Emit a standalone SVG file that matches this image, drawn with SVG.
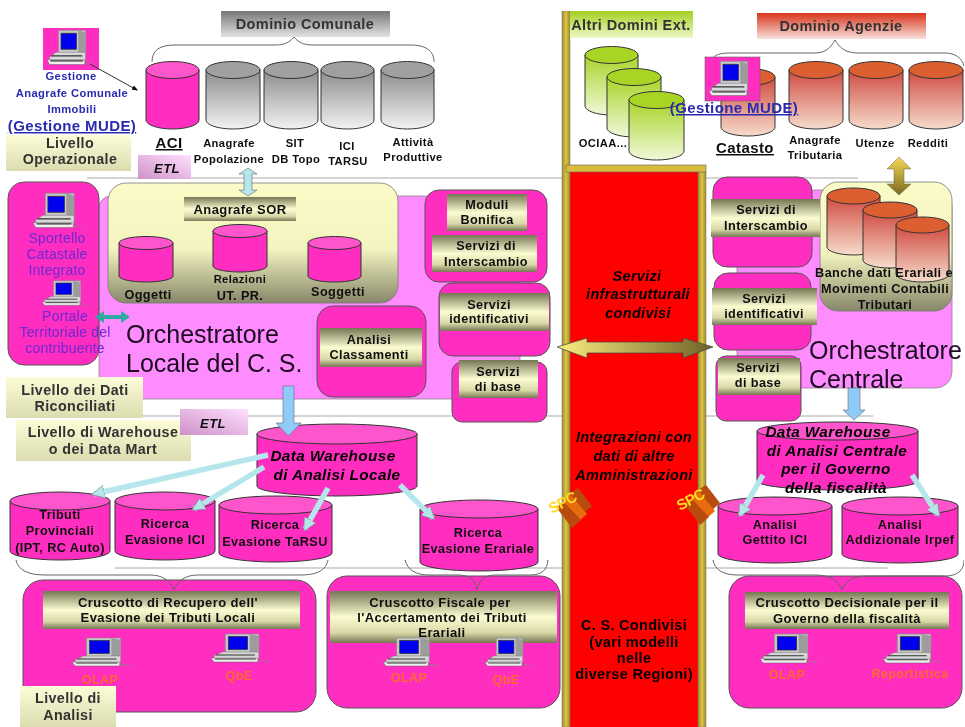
<svg xmlns="http://www.w3.org/2000/svg" width="965" height="727" viewBox="0 0 965 727">
<style>
text{font-family:"Liberation Sans","DejaVu Sans",sans-serif;font-weight:bold;font-size:11.2px;fill:#111;text-anchor:middle;letter-spacing:.4px}
.i{font-style:italic}
.big{font-size:25px;font-weight:normal;text-anchor:start;letter-spacing:0;fill:#1a0a20}
.blue{fill:#2a2ab0}
.mude{font-size:15px;text-decoration:underline}
.vio{fill:#6a2ad0;font-weight:normal;font-size:14px;letter-spacing:.2px}
.org{fill:#ff6a30;font-size:12.5px}
.hd{font-size:13px}
.dom{font-size:14.5px;fill:#333}
.lv{font-size:14.3px;fill:#333}
.m{font-size:12.7px}
.cc{font-size:14.5px;fill:#000;letter-spacing:.3px}
.dw{font-size:15.3px;font-style:italic;fill:#000}
.lab{font-size:15px}
.u{text-decoration:underline}
.etlt{font-style:italic;font-size:13px}
.spc{font-size:15px;fill:#ffd820;letter-spacing:-.5px}
.cyl{stroke:#333;stroke-width:1}
.mag{fill:#ff2dc0}.mcap{fill:#ff55cc}
.gray{fill:url(#gGray)}.gcap{fill:#a0a0a0}
.grn{fill:url(#gGrn)}.grncap{fill:#a8d428}
.ora{fill:url(#gOra)}.oracap{fill:#dc5f30}
.box{fill:#ff2dc0;stroke:#555;stroke-width:1}
.hdr{fill:url(#gHdr)}
.lvl{fill:url(#gLvl)}
.etl{fill:url(#gEtl)}
.br{fill:none;stroke:#666;stroke-width:1}
.hl{stroke:#aaa;stroke-width:1.2;fill:none}
.cy{stroke:#b5e6ec;stroke-width:5.500;fill:none;marker-end:url(#mCy)}
.ex1{fill:#e86c10}.ex2{fill:#b84c08}
</style>
<defs>
<filter id="soft" x="0" y="0" width="100%" height="100%"><feGaussianBlur stdDeviation="0.45"/></filter>
<linearGradient id="gGray" x1="0" y1="0" x2="0" y2="1"><stop offset="0" stop-color="#8c8c8c"/><stop offset="1" stop-color="#f2f2f2"/></linearGradient>
<linearGradient id="gGrn" x1="0" y1="0" x2="0" y2="1"><stop offset="0" stop-color="#a8d428"/><stop offset="1" stop-color="#f0f8d8"/></linearGradient>
<linearGradient id="gOra" x1="0" y1="0" x2="0" y2="1"><stop offset="0" stop-color="#d04a40"/><stop offset="1" stop-color="#f6dccc"/></linearGradient>
<linearGradient id="gHdr" x1="0" y1="0" x2="0" y2="1"><stop offset="0" stop-color="#767654"/><stop offset=".5" stop-color="#fcfcd2"/><stop offset=".8" stop-color="#d8d8a8"/><stop offset="1" stop-color="#767654"/></linearGradient>
<linearGradient id="gLvl" x1="0" y1="0" x2="0" y2="1"><stop offset="0" stop-color="#fcfcd8"/><stop offset="1" stop-color="#dcdcb0"/></linearGradient>
<linearGradient id="gEtl" x1="0" y1="1" x2="1" y2="0"><stop offset="0" stop-color="#cf90c8"/><stop offset="1" stop-color="#ffe0ff"/></linearGradient>
<linearGradient id="gYel" x1="0" y1="0" x2="0" y2="1"><stop offset="0" stop-color="#fbfbc8"/><stop offset=".55" stop-color="#f4f4c0"/><stop offset="1" stop-color="#87876a"/></linearGradient>
<linearGradient id="gDomC" x1="0" y1="0" x2="0" y2="1"><stop offset="0" stop-color="#777"/><stop offset="1" stop-color="#e2e2e2"/></linearGradient>
<linearGradient id="gDomA" x1="0" y1="0" x2="0" y2="1"><stop offset="0" stop-color="#d8341a"/><stop offset="1" stop-color="#f8e0dc"/></linearGradient>
<linearGradient id="gDomE" x1="0" y1="0" x2="0" y2="1"><stop offset="0" stop-color="#a4d020"/><stop offset="1" stop-color="#eef8c8"/></linearGradient>
<linearGradient id="gGoldH" x1="0" y1="0" x2="1" y2="0"><stop offset="0" stop-color="#fbee80"/><stop offset="1" stop-color="#6e6228"/></linearGradient>
<linearGradient id="gGoldV" x1="0" y1="0" x2="0" y2="1"><stop offset="0" stop-color="#f6d850"/><stop offset="1" stop-color="#7a6a20"/></linearGradient>
<linearGradient id="gPole" x1="0" y1="0" x2="1" y2="0"><stop offset="0" stop-color="#9a8a30"/><stop offset=".5" stop-color="#e0c440"/><stop offset="1" stop-color="#9a8a30"/></linearGradient>
<marker id="mCy" viewBox="0 0 10 10" refX="8" refY="5" markerWidth="2.400" markerHeight="2.400" orient="auto"><path d="M0,0L10,5L0,10z" fill="#b5e6ec" stroke="#777" stroke-width=".4"/></marker>
<marker id="mBk" viewBox="0 0 10 10" refX="8" refY="5" markerWidth="6" markerHeight="6" orient="auto"><path d="M0,1L10,5L0,9z" fill="#111"/></marker>
<symbol id="pc" viewBox="0 0 56 31" preserveAspectRatio="none">
<rect x="14" y="1" width="33" height="19" fill="#c8c8c8" stroke="#888" stroke-width=".6"/>
<path d="M38,1l9,2v17h-9z" fill="#9c9c9c"/>
<rect x="17" y="3.500" width="19" height="13" fill="#0000ee" stroke="#333" stroke-width=".7"/>
<path d="M3,23l8,-4h36v7H3z" fill="#d8d8d8" stroke="#777" stroke-width=".5"/>
<path d="M0,25h46v4H3z" fill="#eee" stroke="#666" stroke-width=".5"/>
<path d="M5,22h38M4,26h40" stroke="#333" stroke-width="1"/>
<path d="M46,29c3,-2 6,-2 10,0" stroke="#888" fill="none" stroke-width=".8"/>
</symbol>
</defs>
<rect width="965" height="727" fill="#fff"/>
<g filter="url(#soft)">

<g id="hlines">
<path class="hl" d="M87,178H858M143,416H873M115,568H888"/>
</g>

<g id="column">
<rect x="570" y="172" width="128" height="555" fill="#f00"/>
<rect x="562" y="11" width="8" height="716" fill="url(#gPole)" stroke="#777" stroke-width=".5"/>
<rect x="698" y="172" width="8" height="555" fill="url(#gPole)" stroke="#777" stroke-width=".5"/>
<rect x="566" y="165" width="140" height="7" fill="#d8bc3c" stroke="#666" stroke-width=".6"/>
<text class="i cc" x="637" y="281">Servizi</text>
<text class="i cc" x="638" y="299">infrastrutturali</text>
<text class="i cc" x="638" y="318">condivisi</text>
<text class="i cc" x="634" y="442">Integrazioni con</text>
<text class="i cc" x="634" y="461">dati di altre</text>
<text class="i cc" x="634" y="480">Amministrazioni</text>
<text class="cc" x="634" y="630">C. S. Condivisi</text>
<text class="cc" x="634" y="647">(vari modelli</text>
<text class="cc" x="634" y="663">nelle</text>
<text class="cc" x="634" y="679">diverse Regioni)</text>
</g>

<g id="dom-comunale">
<rect x="221" y="11" width="169" height="26" fill="url(#gDomC)"/>
<text class="dom" x="305" y="29">Dominio Comunale</text>
<path class="br" d="M152,62C152,50 160,45 175,45H275C285,45 290,42 294,37C298,42 303,45 313,45H410C425,45 434,50 434,62"/>
</g>
<g id="cyl-aci">
<path class="cyl mag" d="M146,70V120A26.500,9 0 0 0 199,120V70z"/><ellipse class="cyl mcap" cx="172.500" cy="70" rx="26.500" ry="8.500"/>
<text class="u lab" x="169" y="148">ACI</text>
</g>
<g id="cyl-anagrafe">
<path class="cyl gray" d="M206,70V120A27,9 0 0 0 260,120V70z"/><ellipse class="cyl gcap" cx="233" cy="70" rx="27" ry="8.500"/>
<text x="229" y="147">Anagrafe</text><text x="229" y="163">Popolazione</text>
</g>
<g id="cyl-sit">
<path class="cyl gray" d="M264,70V120A27,9 0 0 0 318,120V70z"/><ellipse class="cyl gcap" cx="291" cy="70" rx="27" ry="8.500"/>
<text x="295" y="147">SIT</text><text x="296" y="163">DB Topo</text>
</g>
<g id="cyl-ici">
<path class="cyl gray" d="M321,70V120A26.500,9 0 0 0 374,120V70z"/><ellipse class="cyl gcap" cx="347.500" cy="70" rx="26.500" ry="8.500"/>
<text x="347" y="150">ICI</text><text x="348" y="165">TARSU</text>
</g>
<g id="cyl-attivita">
<path class="cyl gray" d="M381,70V120A26.500,9 0 0 0 434,120V70z"/><ellipse class="cyl gcap" cx="407.500" cy="70" rx="26.500" ry="8.500"/>
<text x="413" y="146">Attività</text><text x="413" y="161">Produttive</text>
</g>

<g id="dom-ext">
<rect x="570" y="11" width="123" height="27" fill="url(#gDomE)"/>
<text class="dom" x="631" y="30">Altri Domini Ext.</text>
<text x="603" y="147">OCIAA...</text>
<path class="cyl grn" d="M585,55V106A26.500,9 0 0 0 638,106V55z"/><ellipse class="cyl grncap" cx="611.500" cy="55" rx="26.500" ry="8.500"/>
<path class="cyl grn" d="M607,77V128A27,9 0 0 0 661,128V77z"/><ellipse class="cyl grncap" cx="634" cy="77" rx="27" ry="8.500"/>
<path class="cyl grn" d="M629,100V151A27.500,9 0 0 0 684,151V100z"/><ellipse class="cyl grncap" cx="656.500" cy="100" rx="27.500" ry="8.500"/>
</g>

<g id="dom-agenzie">
<rect x="757" y="13" width="169" height="26" fill="url(#gDomA)"/>
<text class="dom" x="841" y="31">Dominio Agenzie</text>
<path class="br" d="M713,58C716,54 722,53 730,53H815C826,53 831,47 835,40C839,47 845,53 858,53H945C955,53 962,58 964,66"/>
</g>
<g id="cyl-catasto">
<path class="cyl ora" d="M721,77V127A27,9 0 0 0 775,127V77z"/><ellipse class="cyl oracap" cx="748" cy="77" rx="27" ry="8.500"/>
<text class="u lab" x="745" y="153">Catasto</text>
</g>
<g id="cyl-trib">
<path class="cyl ora" d="M789,70V120A27,9 0 0 0 843,120V70z"/><ellipse class="cyl oracap" cx="816" cy="70" rx="27" ry="8.500"/>
<text x="815" y="144">Anagrafe</text><text x="815" y="159">Tributaria</text>
</g>
<g id="cyl-utenze">
<path class="cyl ora" d="M849,70V120A27,9 0 0 0 903,120V70z"/><ellipse class="cyl oracap" cx="876" cy="70" rx="27" ry="8.500"/>
<text x="875" y="147">Utenze</text>
</g>
<g id="cyl-redditi">
<path class="cyl ora" d="M909,70V120A27,9 0 0 0 963,120V70z"/><ellipse class="cyl oracap" cx="936" cy="70" rx="27" ry="8.500"/>
<text x="928" y="147">Redditi</text>
</g>

<g id="gestione-anagrafe">
<rect x="43" y="28" width="56" height="42" fill="#ff2dc0"/>
<use href="#pc" x="47" y="29" width="46" height="38"/>
<text class="blue" x="71" y="80">Gestione</text>
<text class="blue" x="72" y="97">Anagrafe Comunale</text>
<text class="blue" x="72" y="113">Immobili</text>
<text class="blue mude" x="72" y="131">(Gestione MUDE)</text>
</g>
<g id="gestione-mude">
<rect x="705" y="57" width="55" height="44" fill="#ff2dc0" stroke="#666" stroke-width=".6"/>
<use href="#pc" x="709" y="60" width="46" height="38"/>
<text class="blue mude" x="734" y="113">(Gestione MUDE)</text>
</g>

<g id="lvl-op"><rect class="lvl" x="6" y="135" width="125" height="36"/><text class="lv" x="70" y="148">Livello</text><text class="lv" x="70" y="164">Operazionale</text></g>
<g id="etl-1"><rect class="etl" x="138" y="155" width="53" height="24"/><text class="etlt" x="167" y="173">ETL</text></g>

<g id="orch-locale">
<rect x="99" y="196" width="421" height="203" rx="12" fill="#ff8cff" stroke="#888" stroke-width=".8"/>
<text class="big" x="126" y="343">Orchestratore</text>
<text class="big" x="126" y="372">Locale del C. S.</text>
</g>
<g id="sportello">
<rect x="8" y="182" width="91" height="183" rx="16" class="box"/>
<use href="#pc" x="33" y="192" width="49" height="38"/>
<use href="#pc" x="42" y="280" width="46" height="27"/>
<text class="vio" x="57" y="243">Sportello</text>
<text class="vio" x="57" y="259">Catastale</text>
<text class="vio" x="57" y="275">Integrato</text>
<text class="vio" x="65" y="321">Portale</text>
<text class="vio" x="65" y="337">Territoriale del</text>
<text class="vio" x="65" y="353">contribuente</text>
</g>
<g id="anagrafe-sor">
<rect x="108" y="183" width="290" height="120" rx="18" fill="url(#gYel)" stroke="#777" stroke-width=".8"/>
<rect class="hdr" x="184" y="197" width="112" height="24"/>
<text class="hd" x="240" y="214">Anagrafe SOR</text>
<path class="cyl mag" d="M119,243V276A27,6 0 0 0 173,276V243z"/><ellipse class="cyl mcap" cx="146" cy="243" rx="27" ry="6.500"/>
<path class="cyl mag" d="M213,231V266A27,6 0 0 0 267,266V231z"/><ellipse class="cyl mcap" cx="240" cy="231" rx="27" ry="6.500"/>
<path class="cyl mag" d="M308,243V276A26.500,6 0 0 0 361,276V243z"/><ellipse class="cyl mcap" cx="334.500" cy="243" rx="26.500" ry="6.500"/>
<text class="m" x="148" y="299">Oggetti</text>
<text x="240" y="283">Relazioni</text><text class="m" x="240" y="300">UT. PR.</text>
<text class="m" x="338" y="296">Soggetti</text>
</g>
<g id="moduli">
<rect x="425" y="190" width="122" height="92" rx="14" class="box"/>
<rect class="hdr" x="447" y="194" width="80" height="37"/>
<text class="m" x="487" y="209">Moduli</text><text class="m" x="487" y="224">Bonifica</text>
<rect class="hdr" x="432" y="235" width="105" height="37"/>
<text class="m" x="486" y="250">Servizi di</text><text class="m" x="486" y="266">Interscambio</text>
</g>
<g id="serv-id-l">
<rect x="439" y="283" width="111" height="73" rx="14" class="box"/>
<rect class="hdr" x="440" y="293" width="109" height="38"/>
<text class="m" x="489" y="309">Servizi</text><text class="m" x="489" y="323">identificativi</text>
</g>
<g id="serv-base-l">
<rect x="452" y="362" width="95" height="60" rx="10" class="box"/>
<rect class="hdr" x="459" y="360" width="79" height="38"/>
<text class="m" x="498" y="376">Servizi</text><text class="m" x="498" y="391">di base</text>
</g>
<g id="classamenti">
<rect x="317" y="306" width="109" height="91" rx="16" class="box"/>
<rect class="hdr" x="320" y="328" width="102" height="39"/>
<text class="m" x="369" y="344">Analisi</text><text class="m" x="369" y="359">Classamenti</text>
</g>

<g id="orch-centrale">
<rect x="737" y="190" width="215" height="198" rx="16" fill="#ff8cff" stroke="#888" stroke-width=".8"/>
<text class="big" x="809" y="359">Orchestratore</text>
<text class="big" x="809" y="388">Centrale</text>
</g>
<g id="banche">
<rect x="820" y="182" width="132" height="129" rx="18" fill="url(#gYel)" stroke="#777" stroke-width=".8"/>
<path class="cyl ora" d="M827,196V247A26.500,8 0 0 0 880,247V196z"/><ellipse class="cyl oracap" cx="853.500" cy="196" rx="26.500" ry="8"/>
<path class="cyl ora" d="M863,210V260A27,8 0 0 0 917,260V210z"/><ellipse class="cyl oracap" cx="890" cy="210" rx="27" ry="8"/>
<path class="cyl ora" d="M896,225V274A26.500,8 0 0 0 949,274V225z"/><ellipse class="cyl oracap" cx="922.500" cy="225" rx="26.500" ry="8"/>
<text class="m" x="884" y="277">Banche dati Erariali e</text>
<text class="m" x="885" y="293">Movimenti Contabili</text>
<text class="m" x="885" y="309">Tributari</text>
</g>
<g id="serv-int-r">
<rect x="713" y="177" width="99" height="90" rx="14" class="box"/>
<rect class="hdr" x="711" y="199" width="109" height="38"/>
<text class="m" x="766" y="214">Servizi di</text><text class="m" x="766" y="230">Interscambio</text>
</g>
<g id="serv-id-r">
<rect x="714" y="273" width="97" height="77" rx="14" class="box"/>
<rect class="hdr" x="712" y="288" width="105" height="37"/>
<text class="m" x="764" y="303">Servizi</text><text class="m" x="764" y="318">identificativi</text>
</g>
<g id="serv-base-r">
<rect x="716" y="356" width="85" height="65" rx="10" class="box"/>
<rect class="hdr" x="718" y="358" width="82" height="37"/>
<text class="m" x="758" y="372">Servizi</text><text class="m" x="758" y="387">di base</text>
</g>

<g id="lvl-dati"><rect class="lvl" x="6" y="377" width="137" height="41"/><text class="lv" x="75" y="395">Livello dei Dati</text><text class="lv" x="75" y="411">Riconciliati</text></g>
<g id="lvl-dw"><rect class="lvl" x="16" y="420" width="175" height="41"/><text class="lv" x="103" y="437">Livello di Warehouse</text><text class="lv" x="103" y="454">o dei Data Mart</text></g>
<g id="etl-2"><rect class="etl" x="180" y="409" width="68" height="26"/><text class="etlt" x="213" y="428">ETL</text></g>

<g id="dw-locale">
<path class="cyl mag" d="M257,434V486A80,10 0 0 0 417,486V434z"/><ellipse class="cyl mcap" cx="337" cy="434" rx="80" ry="10"/>
<text class="dw" x="333" y="461">Data Warehouse</text>
<text class="dw" x="337" y="480">di Analisi Locale</text>
</g>
<g id="dw-centrale">
<path class="cyl mag" d="M757,431V481A80.500,9 0 0 0 918,481V431z"/><ellipse class="cyl mcap" cx="837.500" cy="431" rx="80.500" ry="9"/>
<text class="dw" x="828" y="437">Data Warehouse</text>
<text class="dw" x="837" y="456">di Analisi Centrale</text>
<text class="dw" x="836" y="474">per il Governo</text>
<text class="dw" x="836" y="493">della fiscalità</text>
</g>
<g id="c-tributi">
<path class="cyl mag" d="M10,501V551A50,9 0 0 0 110,551V501z"/><ellipse class="cyl mcap" cx="60" cy="501" rx="50" ry="9"/>
<text class="m" x="60" y="519">Tributi</text><text class="m" x="60" y="535">Provinciali</text><text class="m" x="60" y="552">(IPT, RC Auto)</text>
</g>
<g id="c-ici">
<path class="cyl mag" d="M115,501V551A50,9 0 0 0 215,551V501z"/><ellipse class="cyl mcap" cx="165" cy="501" rx="50" ry="9"/>
<text class="m" x="165" y="528">Ricerca</text><text class="m" x="165" y="544">Evasione ICI</text>
</g>
<g id="c-tarsu">
<path class="cyl mag" d="M219,505V553A56.500,9 0 0 0 332,553V505z"/><ellipse class="cyl mcap" cx="275.500" cy="505" rx="56.500" ry="9"/>
<text class="m" x="275" y="529">Ricerca</text><text class="m" x="275" y="546">Evasione TaRSU</text>
</g>
<g id="c-erariale">
<path class="cyl mag" d="M420,509V562A59,9 0 0 0 538,562V509z"/><ellipse class="cyl mcap" cx="479" cy="509" rx="59" ry="9"/>
<text class="m" x="478" y="537">Ricerca</text><text class="m" x="478" y="553">Evasione Erariale</text>
</g>
<g id="c-gettito">
<path class="cyl mag" d="M718,506V554A57,9 0 0 0 832,554V506z"/><ellipse class="cyl mcap" cx="775" cy="506" rx="57" ry="9"/>
<text class="m" x="775" y="529">Analisi</text><text class="m" x="775" y="544">Gettito ICI</text>
</g>
<g id="c-irpef">
<path class="cyl mag" d="M842,506V554A58,9 0 0 0 958,554V506z"/><ellipse class="cyl mcap" cx="900" cy="506" rx="58" ry="9"/>
<text class="m" x="900" y="529">Analisi</text><text class="m" x="900" y="544">Addizionale Irpef</text>
</g>

<g id="crusc-1">
<rect x="23" y="580" width="293" height="132" rx="20" class="box"/>
<rect class="hdr" x="43" y="591" width="257" height="38"/>
<text class="hd" x="168" y="607">Cruscotto di Recupero dell'</text>
<text class="hd" x="168" y="622">Evasione dei Tributi Locali</text>
<use href="#pc" x="72" y="637" width="58" height="31"/><text class="org" x="100" y="684">OLAP</text>
<use href="#pc" x="211" y="633" width="57" height="31"/><text class="org" x="239" y="680">QbE</text>
</g>
<g id="crusc-2">
<rect x="327" y="576" width="233" height="132" rx="20" class="box"/>
<rect class="hdr" x="330" y="591" width="227" height="52"/>
<text class="hd" x="440" y="607">Cruscotto Fiscale per</text>
<text class="hd" x="442" y="622">l'Accertamento dei Tributi</text>
<text class="hd" x="442" y="637">Erariali</text>
<use href="#pc" x="383" y="637" width="55" height="31"/><text class="org" x="409" y="682">OLAP</text>
<use href="#pc" x="485" y="637" width="45" height="31"/><text class="org" x="506" y="684">QbE</text>
</g>
<g id="crusc-3">
<rect x="729" y="576" width="233" height="132" rx="20" class="box"/>
<rect class="hdr" x="745" y="592" width="204" height="37"/>
<text class="hd" x="847" y="607">Cruscotto Decisionale per il</text>
<text class="hd" x="847" y="623">Governo della fiscalità</text>
<use href="#pc" x="760" y="633" width="57" height="32"/><text class="org" x="787" y="679">OLAP</text>
<use href="#pc" x="883" y="633" width="57" height="32"/><text class="org" x="910" y="678">Reportistica</text>
</g>
<g id="lvl-an"><rect class="lvl" x="20" y="686" width="96" height="41"/><text class="lv" x="68" y="703">Livello di</text><text class="lv" x="68" y="720">Analisi</text></g>

<g id="spc-1">
<path class="ex2" d="M570,493L578,488L592,506L584,513z"/>
<path class="ex1" d="M563,500L571,495L587,514L578,522z"/>
<path class="ex2" d="M556,507L564,502L581,520L572,528z"/>
<text class="spc" x="565" y="507" transform="rotate(-28 565 507)">SPC</text>
</g>
<g id="spc-2">
<path class="ex2" d="M698,490L706,485L720,503L712,510z"/>
<path class="ex1" d="M691,497L699,492L715,511L706,519z"/>
<path class="ex2" d="M684,504L692,499L709,517L700,525z"/>
<text class="spc" x="693" y="504" transform="rotate(-28 693 504)">SPC</text>
</g>

<g id="connectors">
<path class="br" d="M16,560C18,570 28,575 45,575H150C162,575 170,580 174,590C178,580 186,575 198,575H300C318,575 326,570 328,560"/>
<path class="br" d="M405,560C408,570 415,575 430,575H458C470,575 475,580 477,590C479,580 484,575 496,575H530C542,575 547,570 548,560"/>
<path class="br" d="M713,560C715,570 723,575 738,575H815C830,575 838,580 842,590C846,580 854,576 868,576H945C958,576 964,570 964,560"/>
<path d="M90,64L137,90" stroke="#333" stroke-width="1" marker-end="url(#mBk)"/>
<path d="M248,168L257,174H252V190L257,190L248,196L239,190H244V174H239z" fill="#b5e6ec" stroke="#666" stroke-width=".6"/>
<path d="M95,317L104,311V315H121V311L130,317L121,323V319H104V323z" fill="#2ea8a0"/>
<path d="M283,386H294V423H301L288.500,436L276,423H283z" fill="#8fcbf8" stroke="#667" stroke-width=".6"/>
<path d="M848,388H860V410H865L854,420L843,410H848z" fill="#8fcbf8" stroke="#667" stroke-width=".6"/>
<path d="M557,347L587,338V342H683V338L713,347L683,358V353H587V358z" fill="url(#gGoldH)" stroke="#444" stroke-width=".7"/>
<path d="M899,157L911,169H904V184H911L899,195L887,184H894V169H887z" fill="url(#gGoldV)" stroke="#665" stroke-width=".5"/>
<line class="cy" x1="268" y1="455" x2="94" y2="494"/>
<line class="cy" x1="264" y1="467" x2="194" y2="509"/>
<line class="cy" x1="328" y1="488" x2="305" y2="529"/>
<line class="cy" x1="400" y1="485" x2="433" y2="518"/>
<line class="cy" x1="763" y1="475" x2="740" y2="515"/>
<line class="cy" x1="912" y1="475" x2="938" y2="515"/>
</g>
</g>
</svg>
